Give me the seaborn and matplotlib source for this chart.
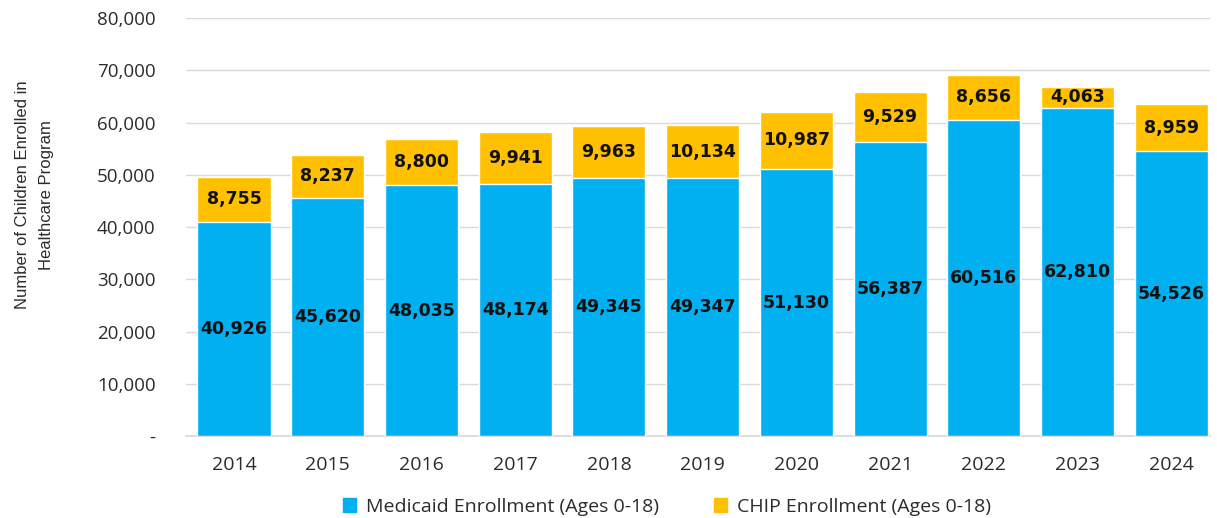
import matplotlib
matplotlib.use("Agg")
import matplotlib.pyplot as plt
import seaborn as sns
import pandas as pd
from matplotlib.patches import Patch

years = ["2014", "2015", "2016", "2017", "2018", "2019", "2020", "2021", "2022", "2023", "2024"]
medicaid = [40926, 45620, 48035, 48174, 49345, 49347, 51130, 56387, 60516, 62810, 54526]
chip = [8755, 8237, 8800, 9941, 9963, 10134, 10987, 9529, 8656, 4063, 8959]
yticks = [0, 10000, 20000, 30000, 40000, 50000, 60000, 70000, 80000]

sns.set_theme(style="white")
plt.rcParams["font.family"] = ["Open Sans", "DejaVu Sans"]

blue = "#00B0F0"
gold = "#FFC000"

df = pd.DataFrame({"year": years, "medicaid": medicaid, "chip": chip})
df["total"] = df["medicaid"] + df["chip"]

fig = plt.figure(figsize=(12.17, 5.18), dpi=100)
ax = fig.add_axes([0.153, 0.158, 0.841, 0.807])

sns.barplot(data=df, x="year", y="total", color=gold, saturation=1, width=0.78, ax=ax, zorder=3)
sns.barplot(data=df, x="year", y="medicaid", color=blue, saturation=1, width=0.78, ax=ax, zorder=3)

for i, (m, c) in enumerate(zip(medicaid, chip)):
    ax.text(i, m / 2, f"{m:,}", ha="center", va="center", fontsize=12.5, fontweight="bold",
            color="#111111", zorder=5, family="DejaVu Sans")
    ax.text(i, m + c / 2, f"{c:,}", ha="center", va="center", fontsize=12.5, fontweight="bold",
            color="#111111", zorder=5, family="DejaVu Sans")

ax.set_ylim(0, 80000)
ax.set_xlim(-0.51, 10.41)
ax.set_yticks(yticks)
ax.set_yticklabels(["-"] + [f"{v:,}" for v in yticks[1:]], fontsize=13.5, color="#2b2b2b")
ax.tick_params(axis="x", labelsize=14, labelcolor="#2b2b2b", pad=14, length=0)
ax.tick_params(axis="y", pad=22, length=0)
ax.grid(axis="y", color="#d9d9d9", linewidth=1, zorder=0)
for s in ["top", "right", "left"]:
    ax.spines[s].set_visible(False)
ax.spines["bottom"].set_color("#d9d9d9")
ax.set_xlabel("")
ax.set_ylabel("")
fig.text(0.028, 0.624, "Number of Children Enrolled in\nHealthcare Program", rotation=90,
         ha="center", va="center", multialignment="center", fontsize=12, color="#2b2b2b",
         linespacing=1.75, family="Liberation Sans")

handles = [Patch(color=blue, label="Medicaid Enrollment (Ages 0-18)"),
           Patch(color=gold, label="CHIP Enrollment (Ages 0-18)")]
fig.legend(handles=handles, loc="center", bbox_to_anchor=(0.548, 0.022), ncol=2, frameon=False,
           fontsize=14, handlelength=0.7, handleheight=0.7, handletextpad=0.5, columnspacing=2.8,
           labelcolor="#2b2b2b")

fig.savefig("out.png", dpi=100, facecolor="white")
